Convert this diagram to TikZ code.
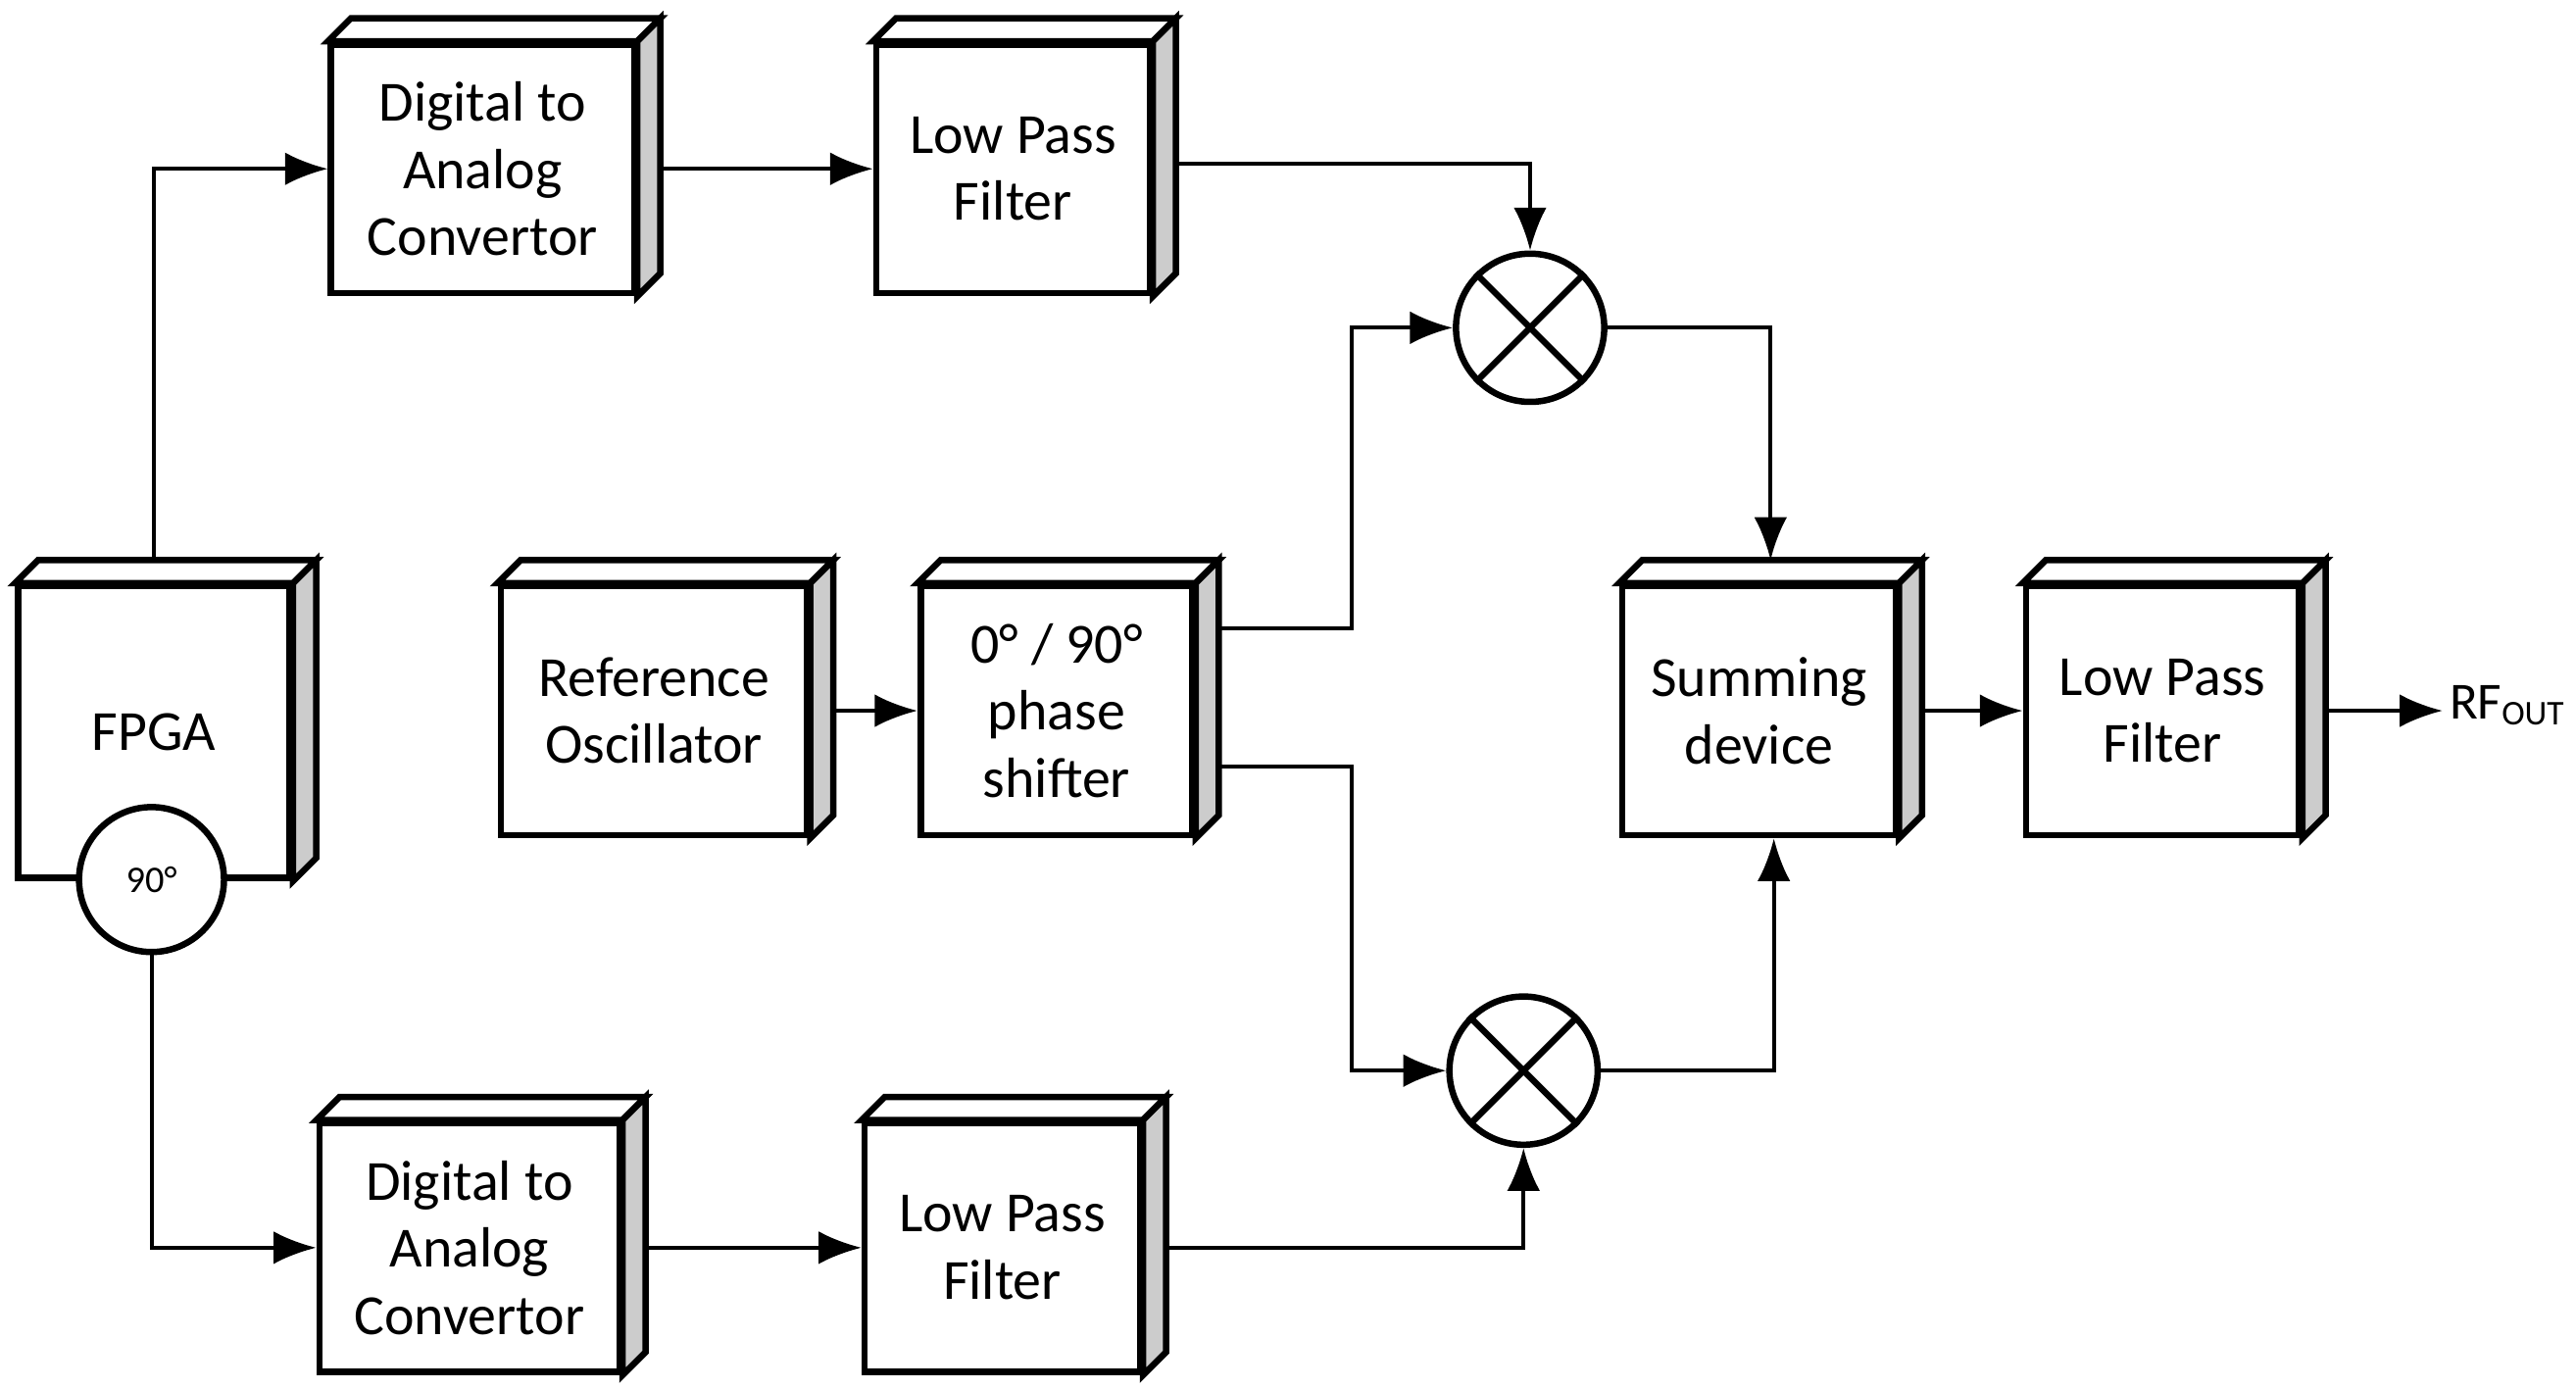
\documentclass[tikz,border=0pt]{standalone}
\usepackage{fontspec}
\setmainfont{Carlito}
\usetikzlibrary{arrows.meta}

\tikzset{
  block/.style={draw, line width=1.1pt, fill=white, align=center, inner sep=0pt,
    font=\fontsize{9.8}{11.6}\selectfont},
  mixer/.style={draw, circle, line width=1.1pt, minimum size=0.9cm},
  conn/.style={line width=0.7pt, -{Latex[length=2.6mm,width=2mm]}},
}

\begin{document}
\begin{tikzpicture}
  \useasboundingbox (0,0) rectangle (15.64,-8.43);

  % blocks
  \node [block, minimum width=1.84cm, minimum height=1.51cm] (dac1) at (2.93,-1.025) {Digital to\\Analog\\Convertor};
  \node [block, minimum width=1.66cm, minimum height=1.51cm] (lpf1) at (6.15,-1.025) {Low Pass\\Filter};
  \node [block, minimum width=1.65cm, minimum height=1.77cm] (fpga) at (0.935,-4.445) {FPGA};
  \node [block, minimum width=1.86cm, minimum height=1.51cm] (ref) at (3.97,-4.315) {Reference\\Oscillator};
  \node [block, minimum width=1.65cm, minimum height=1.51cm] (phase) at (6.415,-4.315) {0° / 90°\\phase\\shifter};
  \node [block, minimum width=1.66cm, minimum height=1.51cm] (sum) at (10.68,-4.315) {Summing\\device};
  \node [block, minimum width=1.66cm, minimum height=1.51cm] (lpf3) at (13.13,-4.315) {Low Pass\\Filter};
  \node [block, minimum width=1.82cm, minimum height=1.51cm] (dac2) at (2.85,-7.575) {Digital to\\Analog\\Convertor};
  \node [block, minimum width=1.67cm, minimum height=1.51cm] (lpf2) at (6.085,-7.575) {Low Pass\\Filter};

  % depth faces
  \foreach \b in {dac1,lpf1,fpga,ref,phase,sum,lpf3,dac2,lpf2} {
    \draw [line width=1.1pt, fill=white] (\b.north west) -- ++(0.14,0.14)
      -- ([shift={(0.14,0.14)}]\b.north east) -- (\b.north east) -- cycle;
    \draw [line width=1.1pt, fill=black!20] (\b.north east) -- ++(0.14,0.14)
      -- ([shift={(0.14,0.14)}]\b.south east) -- (\b.south east) -- cycle;
  }

  \node [draw, circle, line width=1.1pt, fill=white, minimum size=0.88cm,
    font=\fontsize{6.5}{8}\selectfont] (shift) at (0.92,-5.34) {90°};

  % mixers
  \node [mixer] (m1) at (9.29,-1.99) {};
  \node [mixer] (m2) at (9.25,-6.5) {};
  \foreach \m in {m1,m2} {
    \draw [line width=1.1pt] (\m.north east) -- (\m.south west);
    \draw [line width=1.1pt] (\m.north west) -- (\m.south east);
  }

  \node [anchor=west, inner sep=1pt, font=\fontsize{9}{11}\selectfont] (out) at (14.83,-4.28) {RF\textsubscript{OUT}};

  % connectors
  \draw [conn] ([yshift=0.14cm]fpga.north) |- (dac1.west);
  \draw [conn] ([xshift=0.14cm]dac1.east) -- (lpf1.west);
  \draw [conn] ([xshift=0.14cm,yshift=0.03cm]lpf1.east) -| (m1.north);
  \draw [conn] ([xshift=0.14cm,yshift=0.5cm]phase.east) -- ++(0.81,0) |- (m1.west);
  \draw [conn] ([xshift=0.14cm,yshift=-0.34cm]phase.east) -- ++(0.81,0) |- (m2.west);
  \draw [conn] (m1.east) -| ([xshift=0.07cm,yshift=0.14cm]sum.north);
  \draw [conn] (m2.east) -| ([xshift=0.09cm]sum.south);
  \draw [conn] ([xshift=0.14cm]lpf2.east) -| (m2.south);
  \draw [conn] ([xshift=0.14cm]ref.east) -- (phase.west);
  \draw [conn] ([xshift=0.14cm]sum.east) -- (lpf3.west);
  \draw [conn] ([xshift=0.14cm]lpf3.east) -- (out.west |- lpf3.east);
  \draw [conn] (shift.south) |- (dac2.west);
  \draw [conn] ([xshift=0.14cm]dac2.east) -- (lpf2.west);
\end{tikzpicture}
\end{document}
